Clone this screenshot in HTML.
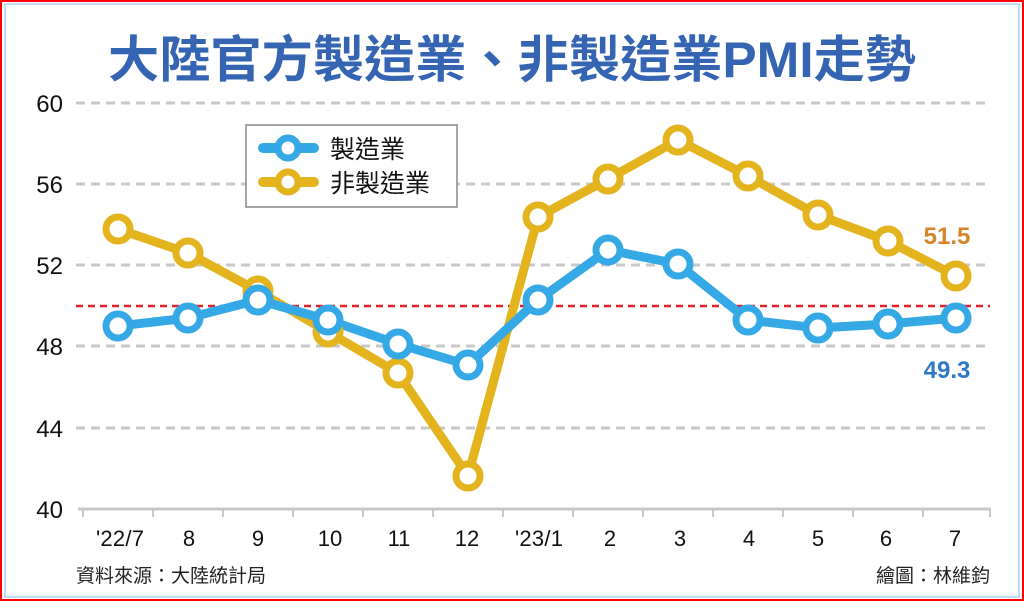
<!DOCTYPE html>
<html><head><meta charset="utf-8"><style>
body{margin:0;background:#fff}
svg{display:block}
text{font-family:"Liberation Sans","Noto Sans CJK TC",sans-serif}
</style></head><body>
<svg width="1024" height="601" viewBox="0 0 1024 601">
<rect x="1" y="1" width="1022" height="599" fill="#fff" stroke="#ff0000" stroke-width="2"/>
<rect x="5" y="4" width="1014" height="593" fill="none" stroke="#a8d0f0" stroke-width="1.5"/>
<text x="512" y="77" text-anchor="middle" font-size="50" font-weight="bold" fill="#3565b2" textLength="808" lengthAdjust="spacingAndGlyphs">大陸官方製造業、非製造業PMI走勢</text>
<g stroke="#c8c8c8" stroke-width="3" stroke-dasharray="9,6">
<line x1="76" y1="103" x2="990" y2="103"/>
<line x1="76" y1="184" x2="990" y2="184"/>
<line x1="76" y1="265" x2="990" y2="265"/>
<line x1="76" y1="346" x2="990" y2="346"/>
<line x1="76" y1="428" x2="990" y2="428"/>
</g>
<line x1="76" y1="306" x2="990" y2="306" stroke="#e0202a" stroke-width="2.5" stroke-dasharray="7,5"/>
<line x1="78" y1="509" x2="991" y2="509" stroke="#c8c8c8" stroke-width="3"/>
<g stroke="#c8c8c8" stroke-width="2">
<line x1="83" y1="509" x2="83" y2="517"/><line x1="153" y1="509" x2="153" y2="517"/><line x1="223" y1="509" x2="223" y2="517"/><line x1="293" y1="509" x2="293" y2="517"/><line x1="363" y1="509" x2="363" y2="517"/><line x1="433" y1="509" x2="433" y2="517"/><line x1="503" y1="509" x2="503" y2="517"/><line x1="573" y1="509" x2="573" y2="517"/><line x1="643" y1="509" x2="643" y2="517"/><line x1="713" y1="509" x2="713" y2="517"/><line x1="783" y1="509" x2="783" y2="517"/><line x1="853" y1="509" x2="853" y2="517"/><line x1="923" y1="509" x2="923" y2="517"/><line x1="990" y1="509" x2="990" y2="517"/>
</g>
<g font-size="24" fill="#111" text-anchor="end">
<text x="63" y="112">60</text><text x="63" y="193">56</text><text x="63" y="274">52</text><text x="63" y="355">48</text><text x="63" y="437">44</text><text x="63" y="518">40</text>
</g>
<g font-size="22" fill="#111" text-anchor="middle">
<text x="120" y="546" textLength="48">'22/7</text><text x="189" y="546">8</text><text x="258" y="546">9</text><text x="330" y="546">10</text><text x="399" y="546">11</text><text x="467" y="546">12</text><text x="539" y="546" textLength="48">'23/1</text><text x="610" y="546">2</text><text x="680" y="546">3</text><text x="749" y="546">4</text><text x="818" y="546">5</text><text x="886" y="546">6</text><text x="955" y="546">7</text>
</g>
<text x="76" y="582" font-size="19" fill="#222">資料來源：大陸統計局</text>
<text x="990" y="582" font-size="19" fill="#222" text-anchor="end">繪圖：林維鈞</text>
<polyline fill="none" stroke="#e4b41e" stroke-width="9" stroke-linejoin="round" points="118,229 188,253 258,291 328,332 398,373 468,476 538,217 608,179 678,140 748,176 818,215 888,241 956,276"/>
<polyline fill="none" stroke="#35a8e6" stroke-width="9" stroke-linejoin="round" points="118,326 188,318 258,300 328,320 398,344 468,365 538,300 608,250 678,264 748,320 818,328 888,324 956,318"/>
<g fill="#fff" stroke="#e4b41e" stroke-width="7">
<circle cx="118" cy="229" r="12"/><circle cx="188" cy="253" r="12"/><circle cx="258" cy="291" r="12"/><circle cx="328" cy="332" r="12"/><circle cx="398" cy="373" r="12"/><circle cx="468" cy="476" r="12"/><circle cx="538" cy="217" r="12"/><circle cx="608" cy="179" r="12"/><circle cx="678" cy="140" r="12"/><circle cx="748" cy="176" r="12"/><circle cx="818" cy="215" r="12"/><circle cx="888" cy="241" r="12"/><circle cx="956" cy="276" r="12"/>
</g>
<g fill="#fff" stroke="#35a8e6" stroke-width="7">
<circle cx="118" cy="326" r="12"/><circle cx="188" cy="318" r="12"/><circle cx="258" cy="300" r="12"/><circle cx="328" cy="320" r="12"/><circle cx="398" cy="344" r="12"/><circle cx="468" cy="365" r="12"/><circle cx="538" cy="300" r="12"/><circle cx="608" cy="250" r="12"/><circle cx="678" cy="264" r="12"/><circle cx="748" cy="320" r="12"/><circle cx="818" cy="328" r="12"/><circle cx="888" cy="324" r="12"/><circle cx="956" cy="318" r="12"/>
</g>
<text x="947" y="244" font-size="24" font-weight="bold" fill="#d8842a" text-anchor="middle">51.5</text>
<text x="947" y="378" font-size="24" font-weight="bold" fill="#2f78c8" text-anchor="middle">49.3</text>
<rect x="246" y="125" width="211" height="82" fill="#fff" stroke="#888" stroke-width="1.5"/>
<line x1="263" y1="148" x2="314" y2="148" stroke="#35a8e6" stroke-width="10" stroke-linecap="round"/>
<circle cx="288" cy="148" r="10" fill="#fff" stroke="#35a8e6" stroke-width="7"/>
<line x1="263" y1="182" x2="314" y2="182" stroke="#e4b41e" stroke-width="10" stroke-linecap="round"/>
<circle cx="288" cy="182" r="10" fill="#fff" stroke="#e4b41e" stroke-width="7"/>
<text x="330" y="158" font-size="25" fill="#111">製造業</text>
<text x="330" y="192" font-size="25" fill="#111">非製造業</text>
</svg>
</body></html>
